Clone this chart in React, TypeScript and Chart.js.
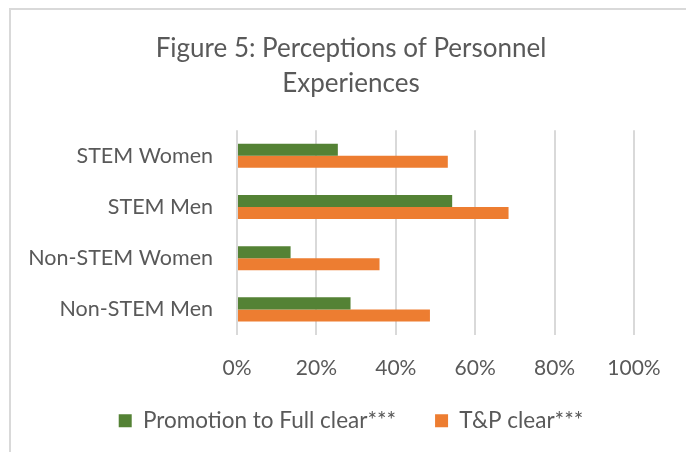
import React, { useEffect, useRef } from "react";
import { Chart, registerables } from "chart.js";

Chart.register(...registerables);

const categories = ["STEM Women", "STEM Men", "Non-STEM Women", "Non-STEM Men"];
const promotionClear = [25.4, 54.2, 13.5, 28.6];
const tpClear = [53.1, 68.4, 35.9, 48.6];
const seriesNames = ["Promotion to Full clear***", "T&P clear***"];
const titleLines = ["Figure 5: Perceptions of Personnel", "Experiences"];

const FONT = "Lato, 'Open Sans', sans-serif";
const TEXT = "#595959";

const legendShift = {
  id: "legendShift",
  afterLayout(chart: any) {
    const lg = chart.legend;
    if (lg) {
      lg.top -= 10;
      lg.bottom -= 10;
    }
  },
};

export default function App() {
  const ref = useRef<HTMLCanvasElement | null>(null);
  useEffect(() => {
    if (!ref.current) return;
    const chart = new Chart(ref.current, {
      type: "bar",
      data: {
        labels: categories,
        datasets: [
          {
            label: seriesNames[0],
            data: promotionClear,
            backgroundColor: "#548235",
            barPercentage: 1,
            categoryPercentage: 0.47,
          },
          {
            label: seriesNames[1],
            data: tpClear,
            backgroundColor: "#ED7D31",
            barPercentage: 1,
            categoryPercentage: 0.47,
          },
        ],
      },
      options: {
        indexAxis: "y",
        responsive: false,
        animation: false,
        layout: { padding: { left: 0, right: 0, top: 0, bottom: 0 } },
        plugins: {
          tooltip: { enabled: false },
          title: {
            display: true,
            text: titleLines,
            color: TEXT,
            font: { family: FONT, size: 26, weight: "normal", lineHeight: 1.35 },
            padding: { top: 21, bottom: 29 },
          },
          legend: {
            position: "bottom",
            maxHeight: 71.4,
            labels: {
              color: TEXT,
              font: { family: FONT, size: 22.5 },
              boxWidth: 13,
              boxHeight: 13,
              padding: 39,
            },
          },
        },
        scales: {
          x: {
            min: 0,
            max: 100,
            ticks: {
              stepSize: 20,
              color: TEXT,
              font: { family: FONT, size: 21 },
              padding: 20.4,
              callback: (v: any) => v + "%",
            },
            grid: { color: "#d9d9d9", lineWidth: 2, drawTicks: false },
            border: { display: false },
            afterFit: (scale: any) => {
              scale.paddingRight = 57;
              scale.height = 45.6;
            },
          },
          y: {
            ticks: {
              color: TEXT,
              font: { family: FONT, size: 21.5 },
              padding: 24,
            },
            grid: { display: false, drawTicks: false },
            border: { display: false },
            afterFit: (scale: any) => {
              scale.width = 226;
            },
          },
        },
      },
      plugins: [legendShift],
    });
    return () => chart.destroy();
  }, []);
  return (
    <div
      style={{
        marginLeft: 1,
        border: "2px solid #d9d9d9",
        borderBottom: "none",
        width: 680,
        height: 442,
      }}
    >
      <canvas ref={ref} width={680} height={442} style={{ display: "block" }} />
    </div>
  );
}
